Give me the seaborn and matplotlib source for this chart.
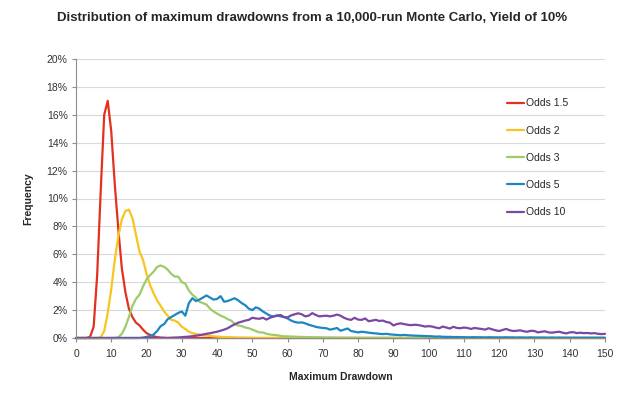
import numpy as np
import pandas as pd
import matplotlib
matplotlib.use("Agg")
import matplotlib.pyplot as plt
import seaborn as sns
from matplotlib.lines import Line2D

x_values = list(range(0, 151))

odds_1_5 = [0, 0, 0, 0, 0.1, 0.8, 4.5, 10.5, 16.0, 17.0,
            14.8, 11.0, 7.8, 5.0, 3.3, 2.1, 1.5, 1.1, 0.9, 0.6,
            0.35, 0.22, 0.12, 0.06, 0.03, 0.02] + [0] * 125

odds_2 = [0, 0, 0, 0, 0, 0, 0, 0.05, 0.5, 1.8,
          3.5, 5.6, 7.3, 8.5, 9.1, 9.2, 8.6, 7.4, 6.2, 5.6,
          4.6, 3.8, 3.2, 2.7, 2.3, 1.9, 1.6, 1.3, 1.25, 1.1,
          0.8, 0.65, 0.45, 0.35, 0.28, 0.25, 0.2, 0.18, 0.15, 0.12,
          0.1, 0.08, 0.07, 0.06, 0.05, 0.04, 0.03, 0.03, 0.02, 0.02,
          0.01] + [0] * 100

odds_3 = [0] * 12 + [0.05, 0.3, 0.8, 1.5, 2.3, 2.8, 3.1, 3.7,
          4.2, 4.5, 4.75, 5.1, 5.2, 5.1, 4.9, 4.6, 4.4, 4.4,
          4.0, 3.9, 3.4, 3.1, 2.9, 2.6, 2.5, 2.4, 2.1, 1.9,
          1.75, 1.6, 1.5, 1.35, 1.25, 1.0, 0.9, 0.85, 0.75, 0.7,
          0.6, 0.5, 0.4, 0.4, 0.3, 0.25, 0.22, 0.2, 0.15, 0.12,
          0.12, 0.1, 0.1, 0.08, 0.08, 0.07, 0.06, 0.06, 0.05, 0.05,
          0.04, 0.03, 0.04, 0.03, 0.03, 0.02, 0.03, 0.02, 0.02, 0.02,
          0.02, 0.01, 0.01, 0.01, 0.01, 0.01, 0.01, 0.01, 0.01, 0.01,
          0.01] + [0] * 60

odds_5 = [0] * 19 + [0.03,
          0.08, 0.14, 0.25, 0.5, 0.85, 1.0, 1.35, 1.5, 1.65, 1.8,
          1.9, 1.6, 2.5, 2.85, 2.65, 2.75, 2.9, 3.05, 2.9, 2.75,
          2.8, 3.0, 2.6, 2.65, 2.75, 2.85, 2.7, 2.5, 2.35, 2.1,
          2.0, 2.2, 2.1, 1.9, 1.75, 1.6, 1.55, 1.62, 1.55, 1.5,
          1.4, 1.25, 1.15, 1.1, 1.12, 1.05, 0.95, 0.88, 0.8, 0.75,
          0.72, 0.7, 0.6, 0.65, 0.72, 0.52, 0.6, 0.68, 0.5, 0.45,
          0.4, 0.45, 0.42, 0.38, 0.35, 0.33, 0.3, 0.28, 0.3, 0.26,
          0.24, 0.22, 0.2, 0.22, 0.2, 0.18, 0.17, 0.16, 0.15, 0.14,
          0.13, 0.12, 0.1, 0.11, 0.09, 0.08, 0.08, 0.07, 0.07, 0.06,
          0.06, 0.05, 0.05, 0.06, 0.05, 0.05, 0.04, 0.05, 0.05, 0.04,
          0.04, 0.04, 0.05, 0.04, 0.04, 0.03, 0.04, 0.03, 0.03, 0.04,
          0.03, 0.03, 0.03, 0.03, 0.02, 0.03, 0.02, 0.03, 0.02, 0.02,
          0.02, 0.02, 0.02, 0.02, 0.02, 0.02, 0.02, 0.02, 0.02, 0.02,
          0.02]

odds_10 = [0] * 27 + [0.02, 0.03, 0.04,
           0.06, 0.08, 0.1, 0.13, 0.16, 0.2, 0.25, 0.3, 0.34, 0.4,
           0.45, 0.52, 0.6, 0.7, 0.85, 0.98, 1.1, 1.17, 1.25, 1.3,
           1.45, 1.4, 1.38, 1.45, 1.32, 1.45, 1.53, 1.6, 1.65, 1.5,
           1.48, 1.62, 1.7, 1.77, 1.7, 1.55, 1.6, 1.78, 1.65, 1.55,
           1.58, 1.6, 1.55, 1.6, 1.68, 1.6, 1.45, 1.35, 1.3, 1.45,
           1.32, 1.3, 1.4, 1.2, 1.25, 1.3, 1.22, 1.25, 1.15, 1.1,
           0.9, 1.0, 1.05, 1.0, 0.95, 0.92, 0.95, 0.93, 0.88, 0.82,
           0.85, 0.82, 0.75, 0.7, 0.82, 0.75, 0.68, 0.8, 0.72, 0.7,
           0.75, 0.72, 0.65, 0.72, 0.68, 0.65, 0.6, 0.7, 0.62, 0.55,
           0.5, 0.58, 0.65, 0.55, 0.5, 0.52, 0.55, 0.48, 0.45, 0.52,
           0.5, 0.4, 0.45, 0.48, 0.4, 0.38, 0.42, 0.45, 0.38, 0.33,
           0.4, 0.42, 0.35, 0.38, 0.35, 0.36, 0.33, 0.35, 0.3, 0.28,
           0.3]

series_names = ["Odds 1.5", "Odds 2", "Odds 3", "Odds 5", "Odds 10"]
series_values = [odds_1_5, odds_2, odds_3, odds_5, odds_10]
colors = ["#E2321F", "#F7C520", "#9DCB6A", "#1B87C2", "#7B47A3"]

y_ticks = [0, 2, 4, 6, 8, 10, 12, 14, 16, 18, 20]
x_ticks = list(range(0, 151, 10))

frames = []
for name, vals in zip(series_names, series_values):
    frames.append(pd.DataFrame({"x": x_values, "y": vals, "series": name}))
df = pd.concat(frames, ignore_index=True)

sns.set_style("white")
plt.rcParams["font.family"] = ["Liberation Sans", "DejaVu Sans"]

fig = plt.figure(figsize=(6.24, 3.95), dpi=100)
ax = fig.add_axes([76 / 624, 1 - 338 / 395, 529 / 624, 279 / 395])

sns.lineplot(data=df, x="x", y="y", hue="series", hue_order=series_names,
             palette=colors, linewidth=1.6, ax=ax, legend=False,
             estimator=None, sort=True)
for line in ax.lines:
    line.set_clip_on(False)
    line.set_solid_joinstyle("round")

ax.set_xlim(0, 150)
ax.set_ylim(0, 20)
ax.set_yticks(y_ticks)
ax.set_yticklabels([f"{v}%" for v in y_ticks])
ax.set_xticks(x_ticks)
ax.set_xticklabels([str(v) for v in x_ticks])
ax.yaxis.grid(True, color="#D9D9D9", linewidth=0.8)
ax.set_axisbelow(True)
for s in ["top", "right"]:
    ax.spines[s].set_visible(False)
for s in ["left", "bottom"]:
    ax.spines[s].set_color("#8C8C8C")
    ax.spines[s].set_linewidth(0.8)
ax.tick_params(axis="both", which="major", direction="out", length=3,
               width=0.8, color="#8C8C8C", labelsize=7.5, labelcolor="#333333",
               pad=3)
ax.tick_params(axis="x", bottom=True, pad=5)
ax.tick_params(axis="y", left=True)

ax.set_xlabel("Maximum Drawdown", fontsize=7.5, fontweight="bold", labelpad=9)
ax.set_ylabel("Frequency", fontsize=7.5, fontweight="bold", labelpad=10)
fig.suptitle("Distribution of maximum drawdowns from a 10,000-run Monte Carlo, Yield of 10%",
             fontsize=9.5, fontweight="bold", x=0.5, y=1 - 18 / 395, va="center")

handles = [Line2D([0], [0], color=c, linewidth=1.6) for c in colors]
ax.legend(handles, series_names, loc="upper left", bbox_to_anchor=(0.805, 0.878),
          frameon=False, fontsize=7.5, handlelength=1.6, handletextpad=0.2,
          labelspacing=1.66, borderpad=0)

fig.savefig("out.png", dpi=100)
